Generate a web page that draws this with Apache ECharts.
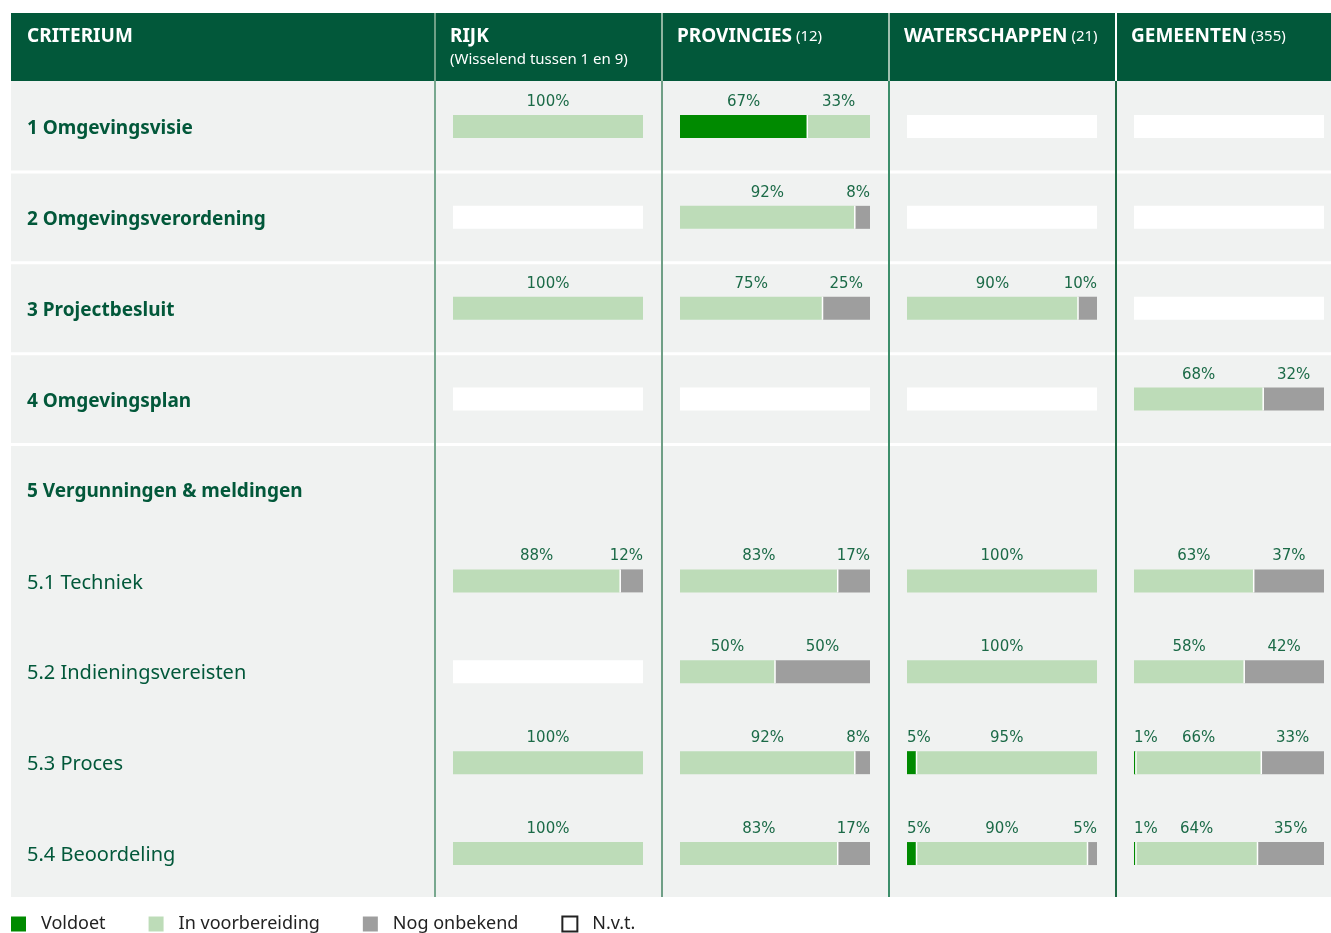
<!DOCTYPE html>
<html>
<head>
<meta charset="utf-8">
<script src="https://cdn.jsdelivr.net/npm/echarts@6/dist/echarts.min.js"></script>
<style>
  html, body { margin: 0; padding: 0; background: #fff; }
  #chart { width: 1331px; height: 933px; }
</style>
</head>
<body>
<div id="chart"></div>
<script>
// rijen (criteria) van boven naar beneden
var rows = ['1 Omgevingsvisie', '2 Omgevingsverordening', '3 Projectbesluit', '4 Omgevingsplan',
    '5 Vergunningen & meldingen', '5.1 Techniek', '5.2 Indieningsvereisten', '5.3 Proces', '5.4 Beoordeling'];
var boldRows = [true, true, true, true, true, false, false, false, false];

// per kolom: [voldoet, in voorbereiding, nog onbekend], 'nvt' = n.v.t., null = geen balk
var rijk = [[0, 100, 0], 'nvt', [0, 100, 0], 'nvt', null, [0, 88, 12], 'nvt', [0, 100, 0], [0, 100, 0]];
var provincies = [[67, 33, 0], [0, 92, 8], [0, 75, 25], 'nvt', null, [0, 83, 17], [0, 50, 50], [0, 92, 8], [0, 83, 17]];
var waterschappen = ['nvt', 'nvt', [0, 90, 10], 'nvt', null, [0, 100, 0], [0, 100, 0], [5, 95, 0], [5, 90, 5]];
var gemeenten = ['nvt', 'nvt', 'nvt', [0, 68, 32], null, [0, 63, 37], [0, 58, 42], [1, 66, 33], [1, 64, 35]];

var columns = [
    { title: 'RIJK', count: '', sub: '(Wisselend tussen 1 en 9)', data: rijk },
    { title: 'PROVINCIES', count: '(12)', sub: '', data: provincies },
    { title: 'WATERSCHAPPEN', count: '(21)', sub: '', data: waterschappen },
    { title: 'GEMEENTEN', count: '(355)', sub: '', data: gemeenten }
];
var statusNames = ['Voldoet', 'In voorbereiding', 'Nog onbekend', 'N.v.t.'];
var statusColors = ['#008a00', '#bddcb8', '#9e9e9e', '#ffffff'];

var darkGreen = '#02583a';
var labelGreen = '#1b6a47';
var colX = [435, 662, 889, 1116];
var bodyTop = 81, bodyBottom = 897, rowH = (899 - 81) / 9;

var myChart = echarts.init(document.getElementById('chart'));

function renderCell(params, api) {
    var row = api.value(0);
    var p0 = api.coord([0, row]);
    var p1 = api.coord([100, row]);
    var h = 23, top = p0[1] - h / 2;
    var children = [];
    if (api.value(1) < 0) {
        children.push({ type: 'rect', shape: { x: p0[0], y: top, width: p1[0] - p0[0], height: h }, style: { fill: '#fff' } });
        return { type: 'group', children: children };
    }
    var cum = 0;
    var bounds = [];
    for (var k = 0; k < 3; k++) {
        var v = api.value(k + 1);
        if (!v) continue;
        var a = api.coord([cum, row])[0];
        var b = api.coord([cum + v, row])[0];
        children.push({ type: 'rect', shape: { x: a, y: top, width: b - a, height: h }, style: { fill: statusColors[k] } });
        if (cum > 0) bounds.push(a);
        var txt = v + '%';
        var w = String(v).length * 9.5 + 14.2;
        var cx = (a + b) / 2;
        cx = Math.max(cx, p0[0] + w / 2);
        cx = Math.min(cx, p1[0] - w / 2);
        children.push({ type: 'text', x: cx, y: top - 13, style: {
            text: txt, fill: labelGreen, font: '15px "DejaVu Sans"', align: 'center', verticalAlign: 'middle' } });
        cum += v;
    }
    bounds.forEach(function (x) {
        children.push({ type: 'rect', shape: { x: x - 0.75, y: top, width: 1.5, height: h }, style: { fill: '#fff' } });
    });
    return { type: 'group', children: children };
}

var grids = [], xAxes = [], yAxes = [], series = [];
columns.forEach(function (col, i) {
    grids.push({ left: colX[i] + 18, width: 190, top: 81, height: 818 });
    xAxes.push({ gridIndex: i, type: 'value', min: 0, max: 100, show: false });
    yAxes.push({
        gridIndex: i, type: 'category', data: rows, inverse: true,
        axisLine: { show: false }, axisTick: { show: false }, splitLine: { show: false },
        axisLabel: i === 0 ? {
            show: true, align: 'left', margin: 426, padding: [4, 0, 0, 0],
            formatter: function (val, idx) {
                return boldRows[idx] ? '{b|' + val + '}' : '{r|' + val + '}';
            },
            rich: {
                b: { fontFamily: 'Noto Sans', fontWeight: 'bold', fontSize: 19, color: darkGreen },
                r: { fontFamily: 'Noto Sans', fontSize: 20, color: darkGreen }
            }
        } : { show: false }
    });
    var data = [];
    col.data.forEach(function (d, r) {
        if (d === null) return;
        if (d === 'nvt') data.push([r, -1, -1, -1]);
        else data.push([r, d[0], d[1], d[2]]);
    });
    series.push({
        type: 'custom', xAxisIndex: i, yAxisIndex: i, renderItem: renderCell, data: data,
        encode: { x: [1], y: 0 }, silent: true
    });
});

// lege series voor de legenda
statusNames.forEach(function (name, k) {
    series.push({
        type: 'bar', name: name, xAxisIndex: 0, yAxisIndex: 0, data: [],
        itemStyle: k === 3 ? { color: '#fff', borderColor: '#222', borderWidth: 1.2 } : { color: statusColors[k] }
    });
});

// tabelopmaak
var graphics = [
    { type: 'rect', z: -10, shape: { x: 11, y: bodyTop, width: 1320, height: bodyBottom - bodyTop }, style: { fill: '#f0f2f1' } },
    { type: 'rect', z: -10, shape: { x: 11, y: 13, width: 1320, height: 68 }, style: { fill: darkGreen } },
    { type: 'text', z: 5, x: 27, y: 37, style: { text: 'CRITERIUM', fill: '#fff', font: 'bold 19px "Noto Sans"', verticalAlign: 'middle' } }
];
for (var r = 1; r <= 4; r++) {
    graphics.push({ type: 'rect', z: -9, shape: { x: 11, y: bodyTop + rowH * r - 1.5, width: 1320, height: 3 }, style: { fill: '#fff' } });
}
var headLine = ['#6f9f86', '#8fb5a0', '#9fbfae', '#ffffff'];
var bodyLine = ['#78a88f', '#6f9f86', '#3c8e6a', '#1f6a45'];
columns.forEach(function (col, i) {
    graphics.push({ type: 'rect', z: -8, shape: { x: colX[i] - 1, y: 13, width: 2, height: 68 }, style: { fill: headLine[i] } });
    graphics.push({ type: 'rect', z: -8, shape: { x: colX[i] - 1, y: bodyTop, width: 2, height: bodyBottom - bodyTop }, style: { fill: bodyLine[i] } });
    graphics.push({ type: 'text', z: 5, x: colX[i] + 15, y: 37, style: {
        text: '{b|' + col.title + '}' + (col.count ? '{r| ' + col.count + '}' : ''),
        verticalAlign: 'middle',
        rich: {
            b: { fill: '#fff', fontFamily: 'Noto Sans', fontWeight: 'bold', fontSize: 19 },
            r: { fill: '#fff', fontFamily: 'Noto Sans', fontSize: 15 }
        } } });
    if (col.sub) {
        graphics.push({ type: 'text', z: 5, x: colX[i] + 15, y: 60, style: {
            text: col.sub, fill: '#fff', font: '15px "Noto Sans"', verticalAlign: 'middle' } });
    }
});

var option = {
    animation: false,
    grid: grids,
    xAxis: xAxes,
    yAxis: yAxes,
    legend: {
        left: 11, top: 915, padding: 0, itemWidth: 15, itemHeight: 15, itemGap: 43, icon: 'rect', selectedMode: false,
        data: statusNames,
        textStyle: { fontFamily: 'Noto Sans', fontSize: 18, color: '#222', padding: [0, 0, 0, 10] }
    },
    graphic: graphics,
    series: series
};
myChart.setOption(option);
</script>
</body>
</html>
